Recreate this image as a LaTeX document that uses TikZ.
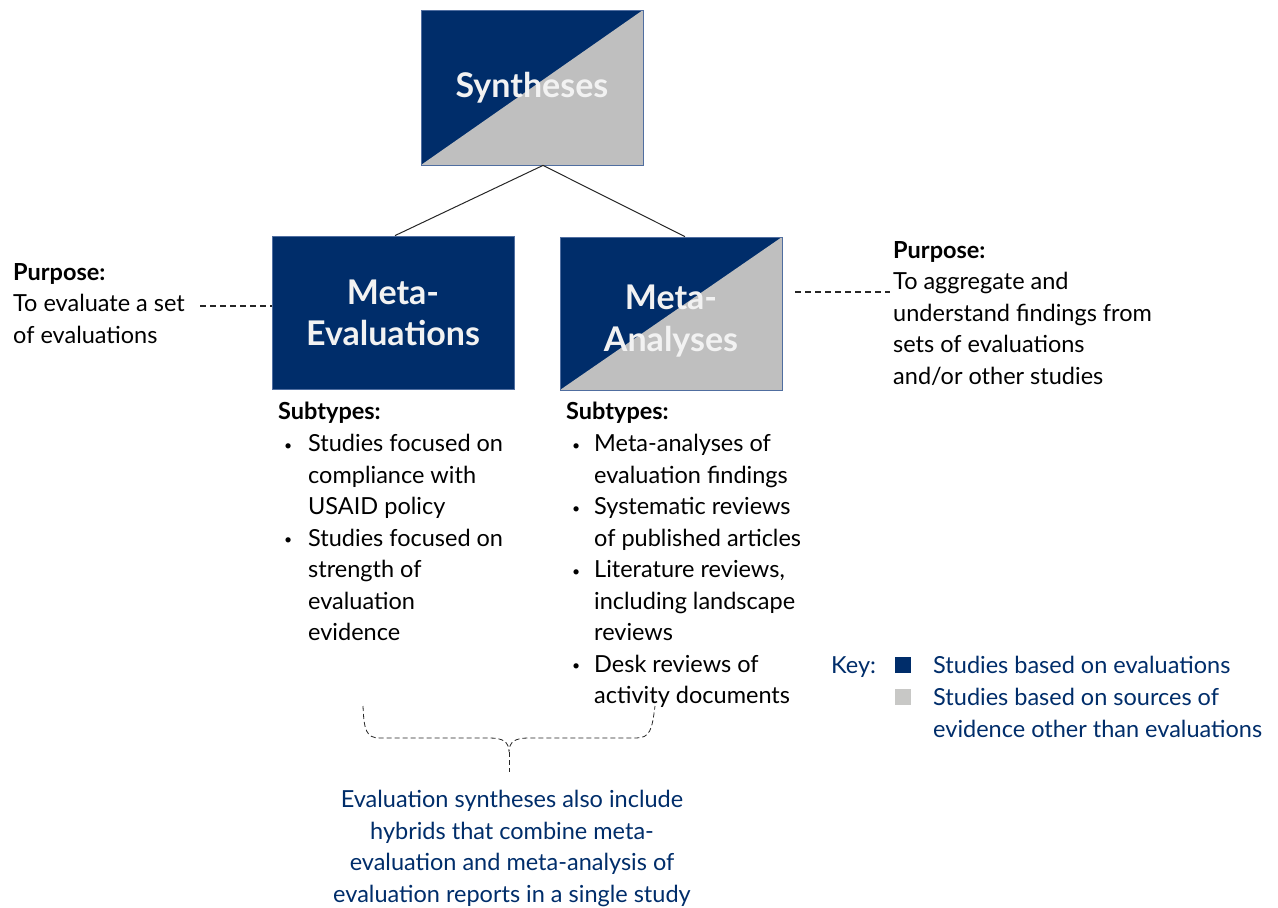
\documentclass[tikz,border=0pt]{standalone}
\usepackage{fontspec}
\setmainfont{Lato}
\usetikzlibrary{decorations.pathreplacing,calc}
\definecolor{navy}{RGB}{0,45,106}
\definecolor{keygray}{RGB}{191,191,191}
\definecolor{lightkey}{RGB}{200,200,198}
\definecolor{edgeblue}{RGB}{80,110,160}
\definecolor{softwhite}{RGB}{242,242,242}
\newcommand{\mybul}{\hspace{6pt}\raisebox{1.5pt}{\fontsize{14}{14}\selectfont\textbullet}}
\tikzset{
  bigbox/.style={draw=edgeblue, line width=0.8pt, fill=navy, inner sep=0pt,
    text=softwhite, align=center, font=\fontsize{34}{41}\selectfont\bfseries},
  splitbox/.style={bigbox, path picture={\fill[keygray] (path picture bounding box.south west) -- (path picture bounding box.north east) -- (path picture bounding box.south east) -- cycle;}},
  boxtext/.style={inner sep=0pt, text=softwhite, align=center, font=\fontsize{34}{42}\selectfont\bfseries},
  plain/.style={anchor=north west, inner sep=0pt, align=left, font=\fontsize{23.5}{31.5}\selectfont},
  bluetext/.style={plain, text=navy},
  link/.style={draw=black!85, line width=1pt},
  dashlink/.style={draw=black!85, line width=1.1pt, dash pattern=on 6pt off 4pt},
}
\begin{document}
\begin{tikzpicture}[x=1pt,y=-1pt]
\useasboundingbox (0,0) rectangle (1278,908);
% boxes
\node[splitbox, minimum width=222pt, minimum height=155pt] (syn) at (532,87.5) {Syntheses};
\node[bigbox, minimum width=242pt, minimum height=153pt] (meval) at (393,312.5) {Meta-\\Evaluations};
\node[splitbox, minimum width=222pt, minimum height=153pt] (manal) at (671,313.5) {};
\node[boxtext] (manaltext) at ([yshift=-8pt]manal.center) {Meta-\\Analyses};
% tree connectors
\draw[link] ([xshift=11pt]syn.south) -- ([xshift=2pt]meval.north);
\draw[link] ([xshift=11pt]syn.south) -- ([xshift=14pt]manal.north);
% purposes
\node[plain] (lpurp) at (13,263) {\textbf{Purpose:}\\To evaluate a set\\of evaluations};
\coordinate (lp) at (200,306);
\draw[dashlink] (lp) -- (lp -| meval.west);
\node[plain] (rpurp) at (893,241) {\textbf{Purpose:}\\To aggregate and\\understand findings from\\sets of evaluations\\and/or other studies};
\coordinate (rp) at (890,292);
\draw[dashlink] ([xshift=13pt]rp -| manal.east) -- (rp);
% subtypes
\node[plain] (lsub) at (278,402) {\textbf{Subtypes:}\\[5pt]
\begin{tabular}{@{}p{30pt}@{}l@{}}
\mybul & Studies focused on\\
 & compliance with\\
 & USAID policy\\
\mybul & Studies focused on\\
 & strength of\\
 & evaluation\\
 & evidence
\end{tabular}};
\node[plain] (rsub) at (566,402) {\textbf{Subtypes:}\\[5pt]
\begin{tabular}{@{}p{28pt}@{}l@{}}
\mybul & Meta-analyses of\\
 & evaluation findings\\
\mybul & Systematic reviews\\
 & of published articles\\
\mybul & Literature reviews,\\
 & including landscape\\
 & reviews\\
\mybul & Desk reviews of\\
 & activity documents
\end{tabular}};
% brace
\coordinate (bl) at (363,706);
\coordinate (br) at (655,706);
\coordinate (btip) at (509,752);
\coordinate (bend) at (509,772);
\draw[dashlink, line width=0.8pt, dash pattern=on 5pt off 3pt] (bl) .. controls (364,730) and (366,738) .. (380,738) -- (490,738) .. controls (503,738) and (509,742) .. (btip) .. controls (509,742) and (515,738) .. (528,738) -- (636,738) .. controls (650,738) and (652,730) .. (br);
\draw[dashlink, line width=0.8pt, dash pattern=on 5pt off 3pt] (btip) -- (bend);
\node[bluetext, anchor=north, align=center] (hyb) at (512,790) {Evaluation syntheses also include\\hybrids that combine meta-\\evaluation and meta-analysis of\\evaluation reports in a single study};
% key
\node[bluetext] (keylbl) at (831,656) {Key:};
\node[fill=navy, minimum size=16pt, inner sep=0pt] (k1) at (903,665) {};
\node[fill=lightkey, minimum size=16pt, inner sep=0pt] (k2) at (903,697) {};
\node[bluetext] (k1t) at (933,656) {Studies based on evaluations};
\node[bluetext] (k2t) at (933,688) {Studies based on sources of\\evidence other than evaluations};
\end{tikzpicture}
\end{document}
